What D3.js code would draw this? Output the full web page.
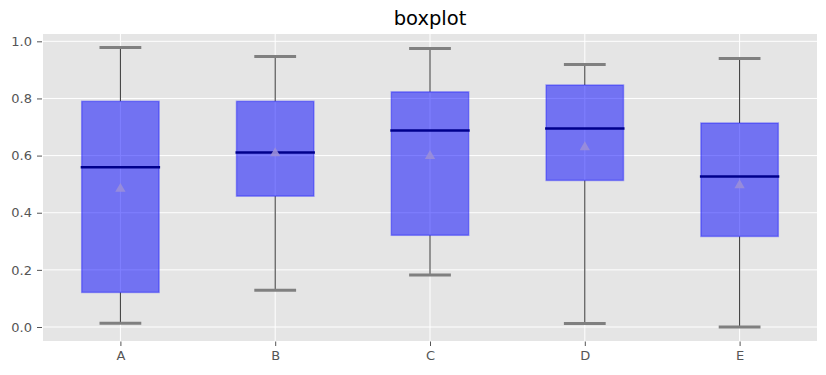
<!DOCTYPE html>
<html><head><meta charset="utf-8">
<script src="https://cdn.jsdelivr.net/npm/d3@7"></script>
<style>body{margin:0;background:#fff}svg{display:block}</style>
</head><body>
<svg id="c" width="826" height="375"></svg>
<script>
const categories = ["A","B","C","D","E"];
const whiskerLow  = [0.013, 0.129, 0.182, 0.012, 0.000];
const q1          = [0.121, 0.458, 0.321, 0.513, 0.317];
const medians     = [0.559, 0.611, 0.688, 0.695, 0.527];
const means       = [0.487, 0.612, 0.602, 0.633, 0.500];
const q3          = [0.790, 0.790, 0.823, 0.847, 0.714];
const whiskerHigh = [0.978, 0.947, 0.975, 0.919, 0.940];
const yTicks = [0.0, 0.2, 0.4, 0.6, 0.8, 1.0];
const title = "boxplot";

const svg = d3.select("#c");
const L = 43, R = 817, T = 34, B = 341;
const x = d3.scaleLinear().domain([0.5, 5.5]).range([L, R]);
const y = d3.scaleLinear().domain([-0.049, 1.0256]).range([B, T]);
const font = "DejaVu Sans, sans-serif";

svg.append("rect").attr("x", L).attr("y", T).attr("width", R - L).attr("height", B - T).attr("fill", "#e5e5e5");

// grid
svg.append("g").selectAll("line").data(yTicks).join("line")
  .attr("x1", L).attr("x2", R).attr("y1", d => y(d)).attr("y2", d => y(d))
  .attr("stroke", "#fff").attr("stroke-width", 1);
svg.append("g").selectAll("line").data(categories).join("line")
  .attr("y1", T).attr("y2", B).attr("x1", (d, i) => x(i + 1)).attr("x2", (d, i) => x(i + 1))
  .attr("stroke", "#fff").attr("stroke-width", 1);

// axes
const yAxis = d3.axisLeft(y).tickValues(yTicks).tickFormat(d3.format(".1f")).tickSize(5).tickPadding(5);
const gy = svg.append("g").attr("transform", `translate(${L - 1},0)`).call(yAxis);
const xAxis = d3.axisBottom(x).tickValues(categories.map((d, i) => i + 1)).tickFormat((d) => categories[d - 1]).tickSize(4.5).tickPadding(5);
const gx = svg.append("g").attr("transform", `translate(0,${B + 0.5})`).call(xAxis);
[gx, gy].forEach(g => {
  g.select(".domain").remove();
  g.selectAll(".tick line").attr("stroke", "#555").attr("stroke-width", 1);
  g.selectAll(".tick text").attr("fill", "#555").style("font-family", font).style("font-size", "13px");
});

const bw = 0.5, cw = 0.27;
const g = svg.append("g");
categories.forEach((c, i) => {
  const cx = x(i + 1);
  const half = (x(1 + bw / 2) - x(1));
  const chalf = (x(1 + cw / 2) - x(1));
  // whiskers
  g.append("line").attr("x1", cx).attr("x2", cx).attr("y1", y(q3[i])).attr("y2", y(whiskerHigh[i])).attr("stroke", "#333").attr("stroke-width", 1);
  g.append("line").attr("x1", cx).attr("x2", cx).attr("y1", y(q1[i])).attr("y2", y(whiskerLow[i])).attr("stroke", "#333").attr("stroke-width", 1);
  // caps
  [whiskerHigh[i], whiskerLow[i]].forEach(v => {
    g.append("line").attr("x1", cx - chalf).attr("x2", cx + chalf).attr("y1", y(v)).attr("y2", y(v)).attr("stroke", "#808080").attr("stroke-width", 3);
  });
  // box
  g.append("rect").attr("x", cx - half).attr("width", 2 * half)
    .attr("y", y(q3[i])).attr("height", y(q1[i]) - y(q3[i]))
    .attr("fill", "blue").attr("fill-opacity", 0.5)
    .attr("stroke", "blue").attr("stroke-opacity", 0.35).attr("stroke-width", 1.5);
  // median
  g.append("line").attr("x1", cx - half - 1).attr("x2", cx + half + 1).attr("y1", y(medians[i])).attr("y2", y(medians[i])).attr("stroke", "#00008b").attr("stroke-width", 2.5);
  // mean
  g.append("path").attr("d", d3.symbol().type(d3.symbolTriangle).size(46)())
    .attr("transform", `translate(${cx},${y(means[i]) + 1})`)
    .attr("fill", "#9a8ed8").attr("fill-opacity", 0.9);
});

svg.append("text").attr("x", (L + R) / 2).attr("y", 25).attr("text-anchor", "middle")
  .style("font-family", font).style("font-size", "19.5px").attr("fill", "#000").text(title);
</script>
</body></html>
